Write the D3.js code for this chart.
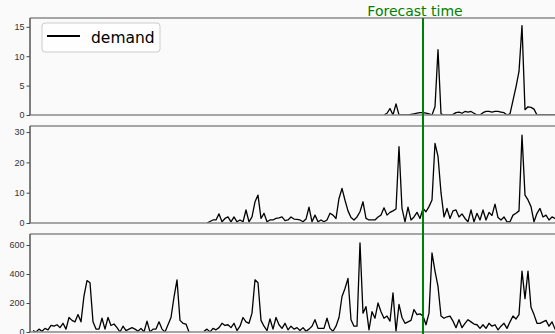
<!DOCTYPE html>
<html>
<head>
<meta charset="utf-8">
<script src="https://cdn.jsdelivr.net/npm/d3@7"></script>
<style>
  body { margin: 0; background: #fafafa; }
  svg { display: block; font-family: 'DejaVu Sans', sans-serif; }
</style>
</head>
<body>
<div id="chart"></div>
<script>
// series values, one point per time step; null = no data
const topStart = 117;
const demandTop = [0, 0.3, 1.1, 0, 1.9, 0, 0, 0, 0, 0.1, 0.2, 0.3, 0.4, 0.4, 0.3, 0.2, 0, 1.4, 11.1, 0.2,
  0, 0, 0, 0.1, 0.4, 0.5, 0.3, 0.6, 0.5, 0.6, 0.3, 0, 0, 0.4, 0.6, 0.6, 0.5, 0.6, 0.6, 0.5,
  0.4, 0, 0.2, 2.5, 4.8, 7.4, 15.2, 0.9, 1.4, 1.3, 1.0, 0, 0, 0, 0, 0, 0, 0, 0];

const midStart = 58;
const demandMid = [0, 0.5, 1, 1, 3, 0.4, 1.5, 2, 0.4, 2, 0.4, 1, 0.4, 4.3, 0.4, 2, 7, 9.2, 1.5, 3.2,
  0.4, 1, 1, 1.5, 1.7, 2, 0.8, 1, 2, 1.3, 1.2, 1, 0.4, 1.3, 5.2, 0.4, 2.6, 0.4, 1, 0.4,
  1, 3.2, 2.6, 1.5, 8.1, 11.4, 7.5, 4, 1.8, 1, 2, 3.7, 7, 1.5, 1, 1, 1, 2, 2.6, 5,
  2.6, 3.5, 4, 4.6, 25.2, 4.8, 0.4, 5.2, 1, 2, 3.5, 1.5, 4.8, 3.7, 5.4, 7.6, 26.3, 22, 10, 2,
  4.8, 1.5, 4, 4.3, 2, 3, 1.5, 0.4, 4.3, 0.4, 3.2, 1, 4.3, 1, 3.5, 2.5, 6.2, 1.8, 1, 2,
  0.4, 0.4, 2.6, 3.2, 4, 29, 9.2, 7.6, 5.4, 0.4, 3.2, 4.8, 2, 2.6, 1, 2, 1.5, 1];

const bottomStart = 0;
const demandBottom = [10, 0, 20, 5, 25, 15, 45, 40, 50, 30, 60, 20, 100, 80, 70, 120, 70, 250, 355, 340,
  70, 20, 20, 95, 20, 100, 45, 55, 30, 0, 40, 10, 20, 30, 20, 5, 25, 0, 75, 0,
  20, 20, 70, 20, 0, 50, 100, 240, 360, 80, 60, 55, 0, null, null, null, null, 5, 20, 0,
  25, 15, 30, 60, 45, 50, 30, 60, 10, 40, 100, 70, 60, 130, 360, 340, 80, 40, 10, 90,
  20, 100, 50, 25, 60, 15, 40, 20, 30, 10, 30, 5, 20, 40, 85, 25, 25, 25, 95, 25,
  5, 40, 100, 245, 300, 370, 85, 40, 40, 615, 130, 175, 15, 140, 95, 200, 140, 95, 110, 75,
  270, 5, 190, 100, 60, 70, 80, 155, 120, 125, 110, 50, 130, 545, 420, 315, 110, 95, 105, 110,
  75, 30, 85, 30, 60, 85, 70, 55, 50, 25, 50, 25, 60, 40, 50, 15, 40, 60, 25, 70,
  110, 90, 120, 420, 230, 420, 170, 120, 60, 60, 70, 80, 40, 70, 20, 50];

const lastIndex = 175;
const forecastIndex = 130;

const ticksTop = [0, 5, 10, 15];
const ticksMid = [0, 10, 20, 30];
const ticksBottom = [0, 200, 400, 600];

const width = 555;
const height = 334;
const plotLeft = 30;
const plotRight = 600;

const panels = [
  { values: demandTop, start: topStart, yMax: 16.5, ticks: ticksTop, top: 18, bottom: 115 },
  { values: demandMid, start: midStart, yMax: 32, ticks: ticksMid, top: 126, bottom: 223 },
  { values: demandBottom, start: bottomStart, yMax: 676, ticks: ticksBottom, top: 234, bottom: 332 },
];

const svg = d3
  .select('#chart')
  .append('svg')
  .attr('width', width)
  .attr('height', height);

svg.append('rect').attr('width', width).attr('height', height).attr('fill', '#fafafa');

const x = d3.scaleLinear().domain([0, lastIndex]).range([33, 558]);

panels.forEach((p, k) => {
  const y = d3.scaleLinear().domain([0, p.yMax]).range([p.bottom, p.top]);
  const g = svg.append('g');

  g.append('clipPath')
    .attr('id', 'clip' + k)
    .append('rect')
    .attr('x', plotLeft)
    .attr('y', p.top)
    .attr('width', plotRight - plotLeft)
    .attr('height', p.bottom - p.top);

  // y axis
  const axis = g
    .append('g')
    .attr('transform', `translate(${plotLeft},0)`)
    .call(d3.axisLeft(y).tickValues(p.ticks).tickSize(3.5).tickPadding(2));
  axis.select('.domain').remove();
  axis.selectAll('line').attr('stroke', '#444');
  axis.selectAll('text').attr('fill', '#333').style('font-size', '9px');

  const points = p.values.map((v, i) => ({ i: p.start + i, v: v }));
  const line = d3
    .line()
    .defined((d) => d.v !== null)
    .x((d) => x(d.i))
    .y((d) => y(d.v));

  g.append('path')
    .datum(points)
    .attr('clip-path', `url(#clip${k})`)
    .attr('fill', 'none')
    .attr('stroke', '#000')
    .attr('stroke-width', 1.3)
    .attr('stroke-linejoin', 'round')
    .attr('d', line);

  // frame
  g.append('line')
    .attr('x1', plotLeft).attr('x2', plotRight)
    .attr('y1', p.top).attr('y2', p.top)
    .attr('stroke', '#888').attr('stroke-width', 1.5);
  g.append('line')
    .attr('x1', plotLeft).attr('x2', plotRight)
    .attr('y1', p.bottom).attr('y2', p.bottom)
    .attr('stroke', '#888').attr('stroke-width', 1.5);
  g.append('line')
    .attr('x1', plotLeft).attr('x2', plotLeft)
    .attr('y1', p.top).attr('y2', p.bottom)
    .attr('stroke', '#555').attr('stroke-width', 1.5);
});

// forecast marker
svg.append('line')
  .attr('x1', x(forecastIndex)).attr('x2', x(forecastIndex))
  .attr('y1', panels[0].top).attr('y2', height)
  .attr('stroke', 'green')
  .attr('stroke-width', 2);

svg.append('text')
  .attr('x', x(forecastIndex) - 8)
  .attr('y', 16)
  .attr('text-anchor', 'middle')
  .attr('fill', 'green')
  .style('font-size', '14px')
  .text('Forecast time');

// legend
const legend = svg.append('g').attr('transform', 'translate(42,23)');
legend.append('rect')
  .attr('width', 118).attr('height', 29)
  .attr('rx', 3)
  .attr('fill', '#fff').attr('fill-opacity', 0.8)
  .attr('stroke', '#ccc');
legend.append('line')
  .attr('x1', 5).attr('x2', 38)
  .attr('y1', 13).attr('y2', 13)
  .attr('stroke', '#000').attr('stroke-width', 2);
legend.append('text')
  .attr('x', 49).attr('y', 19.5)
  .attr('fill', '#000')
  .style('font-size', '15.5px')
  .text('demand');
</script>
</body>
</html>
